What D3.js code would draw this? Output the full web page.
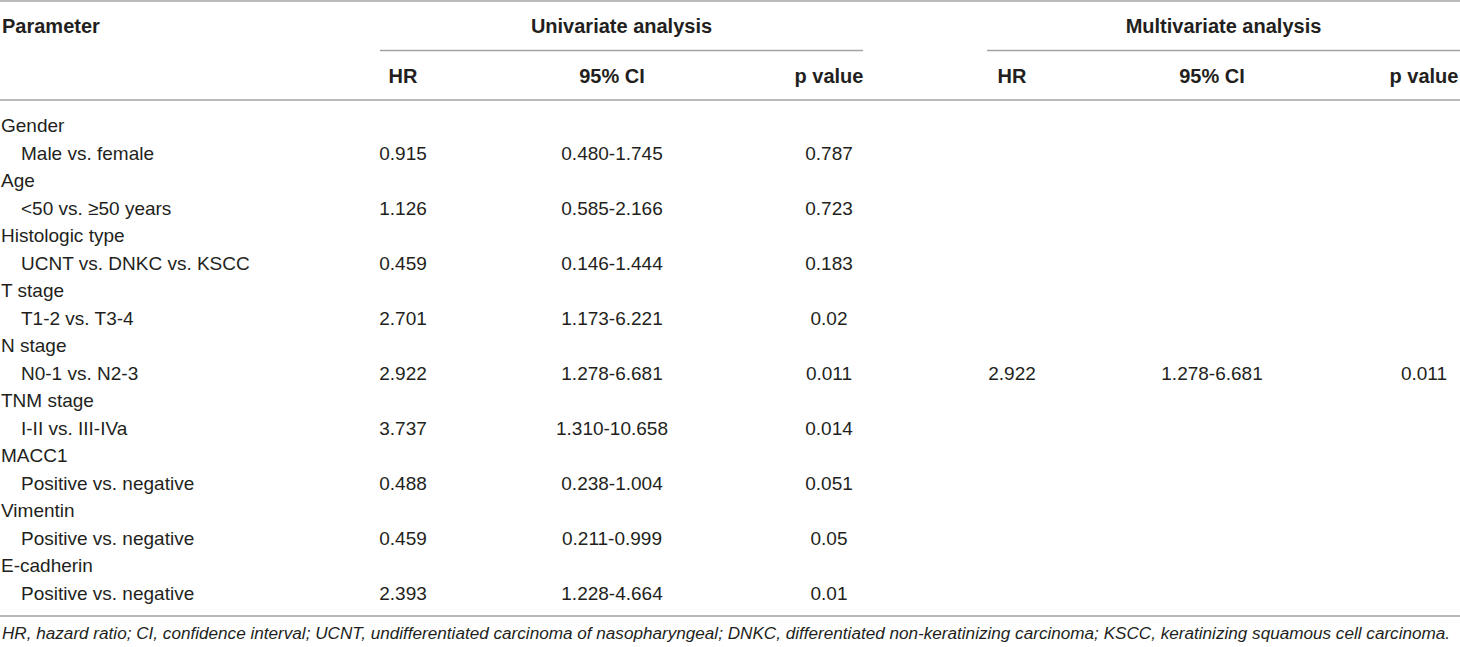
<!DOCTYPE html>
<html>
<head>
<meta charset="utf-8">
<script src="https://cdn.jsdelivr.net/npm/d3@7"></script>
<style>
  html, body { margin: 0; padding: 0; background: #fff; }
  svg { display: block; }
  text { font-family: "Liberation Sans", Arial, Helvetica, sans-serif; fill: #231f20; }
</style>
</head>
<body>
<svg id="chart" width="1460" height="647"></svg>
<script>
// ---- data ----
const parameters = ["Gender", "Age", "Histologic type", "T stage", "N stage", "TNM stage", "MACC1", "Vimentin", "E-cadherin"];
const comparisons = ["Male vs. female", "<50 vs. \u226550 years", "UCNT vs. DNKC vs. KSCC", "T1-2 vs. T3-4", "N0-1 vs. N2-3", "I-II vs. III-IVa", "Positive vs. negative", "Positive vs. negative", "Positive vs. negative"];
const uniHR = ["0.915", "1.126", "0.459", "2.701", "2.922", "3.737", "0.488", "0.459", "2.393"];
const uniCI = ["0.480-1.745", "0.585-2.166", "0.146-1.444", "1.173-6.221", "1.278-6.681", "1.310-10.658", "0.238-1.004", "0.211-0.999", "1.228-4.664"];
const uniP = ["0.787", "0.723", "0.183", "0.02", "0.011", "0.014", "0.051", "0.05", "0.01"];
const multiHR = ["", "", "", "", "2.922", "", "", "", ""];
const multiCI = ["", "", "", "", "1.278-6.681", "", "", "", ""];
const multiP = ["", "", "", "", "0.011", "", "", "", ""];
const groupHeaders = ["Univariate analysis", "Multivariate analysis"];
const columnHeaders = ["HR", "95% CI", "p value", "HR", "95% CI", "p value"];
const footnote = "HR, hazard ratio; CI, confidence interval; UCNT, undifferentiated carcinoma of nasopharyngeal; DNKC, differentiated non-keratinizing carcinoma; KSCC, keratinizing squamous cell carcinoma.";

// ---- layout ----
const W = 1460, H = 647;
const svg = d3.select("#chart");
const colKeys = ["uHR", "uCI", "uP", "mHR", "mCI", "mP"];
const colX = d3.scaleOrdinal().domain(colKeys).range([403, 612, 829, 1012, 1212, 1424]);
const groupSpan = [[380, 863], [987, 1460]];
const nRows = parameters.length * 2;
const rowY = d3.scaleLinear().domain([0, nRows - 1]).range([132, 599.5]);
const lineColor = "#a3a3a3";
const bodySize = 19, headSize = 20;

// rules
const rules = svg.append("g").attr("stroke", lineColor).attr("stroke-width", 1.5);
rules.append("line").attr("x1", 0).attr("x2", W).attr("y1", 1).attr("y2", 1);
rules.append("line").attr("x1", 0).attr("x2", W).attr("y1", 100).attr("y2", 100);
rules.append("line").attr("x1", 0).attr("x2", W).attr("y1", 616).attr("y2", 616);
groupSpan.forEach(s => rules.append("line").attr("x1", s[0]).attr("x2", s[1]).attr("y1", 50.5).attr("y2", 50.5));

// headers
const head = svg.append("g").attr("font-weight", "bold").attr("font-size", headSize);
head.append("text").attr("x", 2).attr("y", 33).text("Parameter");
head.selectAll(".grp").data(groupHeaders).join("text")
  .attr("class", "grp").attr("text-anchor", "middle")
  .attr("x", (d, i) => (groupSpan[i][0] + groupSpan[i][1]) / 2).attr("y", 33).text(d => d);
head.selectAll(".col").data(columnHeaders).join("text")
  .attr("class", "col").attr("text-anchor", "middle")
  .attr("x", (d, i) => colX(colKeys[i])).attr("y", 83).text(d => d);

// body
const body = svg.append("g").attr("font-size", bodySize);
body.selectAll(".par").data(parameters).join("text")
  .attr("class", "par").attr("x", 1).attr("y", (d, i) => rowY(i * 2)).text(d => d);
body.selectAll(".cmp").data(comparisons).join("text")
  .attr("class", "cmp").attr("x", 21).attr("y", (d, i) => rowY(i * 2 + 1)).text(d => d);
const cols = [uniHR, uniCI, uniP, multiHR, multiCI, multiP];
cols.forEach((arr, c) => {
  body.selectAll(".c" + c).data(arr).join("text")
    .attr("class", "c" + c).attr("text-anchor", "middle")
    .attr("x", colX(colKeys[c])).attr("y", (d, i) => rowY(i * 2 + 1)).text(d => d);
});

// footnote: size it so its natural width fits the table width
const fn = svg.append("text").attr("x", 2).attr("y", 639).attr("font-size", 17.5).attr("font-style", "italic")
  .text(footnote);
const natural = fn.node().getComputedTextLength();
const target = 1450;
if (natural > target) fn.attr("font-size", 17.5 * target / natural);
</script>
</body>
</html>
